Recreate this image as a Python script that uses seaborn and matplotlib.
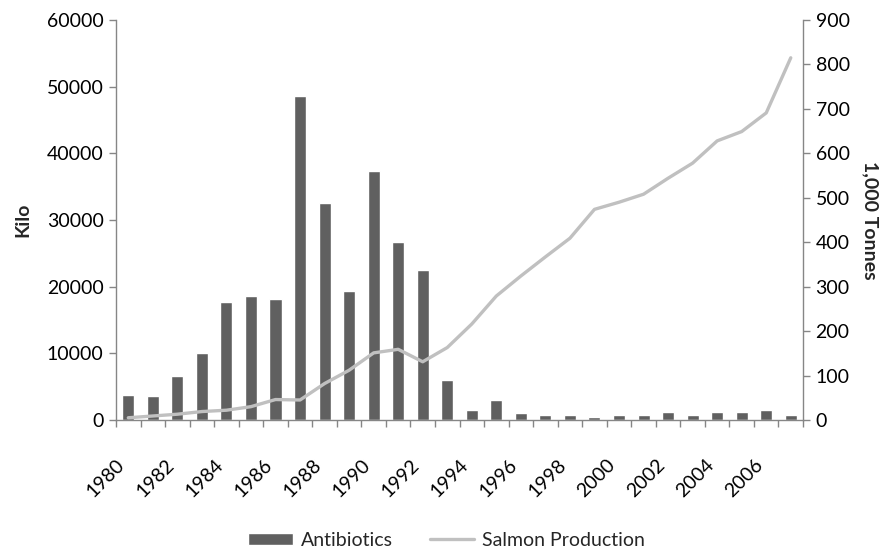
import numpy as np
import pandas as pd
import matplotlib
matplotlib.use('Agg')
import matplotlib.pyplot as plt
import seaborn as sns

# --- data ---
years = list(range(1980, 2008))
antibiotics = [3750, 3600, 6600, 10000, 17700, 18600, 18150, 48600, 32550, 19350,
               37350, 26700, 22500, 6000, 1500, 3000, 1000, 750, 750, 450,
               750, 750, 1150, 750, 1150, 1150, 1500, 750]
salmon = [5, 9, 13, 19, 22, 30, 46, 45, 82, 112,
          151, 159, 131, 163, 216, 279, 324, 367, 409, 474,
          490, 508, 544, 578, 628, 649, 691, 815]

df = pd.DataFrame({'Year': years, 'Antibiotics': antibiotics, 'Salmon': salmon})
df['pos'] = np.arange(len(df))

sns.set_style('white')
plt.rcParams['font.family'] = ['Lato', 'DejaVu Sans']

spine_col = '#868686'
bar_col = '#606060'
line_col = '#c0c0c0'

fig, ax = plt.subplots(figsize=(8.81, 5.47), dpi=100)
fig.subplots_adjust(left=0.1317, right=0.9115, top=0.9634, bottom=0.2322)

sns.barplot(data=df, x='pos', y='Antibiotics', color=bar_col, width=0.49,
            saturation=1, ax=ax, label='Antibiotics')
ax2 = ax.twinx()
sns.lineplot(data=df, x='pos', y='Salmon', color=line_col, linewidth=2.4,
             ax=ax2, label='Salmon Production', legend=False)
if ax.get_legend() is not None:
    ax.get_legend().remove()

ax.set_xlim(-0.5, len(years) - 0.5)
ax.set_ylim(0, 60000)
ax2.set_ylim(0, 900)
ax.set_yticks(range(0, 60001, 10000))
ax2.set_yticks(range(0, 901, 100))

# category boundaries as ticks, labels every other year
bounds = np.arange(-0.5, len(years), 1.0)
ax.set_xticks(bounds)
labels = [str(y) if (y - 1980) % 2 == 0 else '' for y in years] + ['']
ax.set_xticklabels(labels, rotation=45, ha='right', rotation_mode='anchor',
                   fontsize=14)

ax.set_xlabel('')
ax.set_ylabel('Kilo', fontsize=14, fontweight='bold', labelpad=11)
ax2.set_ylabel('1,000 Tonnes', fontsize=14, fontweight='bold', rotation=-90,
               labelpad=21)

for a in (ax, ax2):
    for s in a.spines.values():
        s.set_visible(False)
ax.spines['left'].set_visible(True)
ax.spines['bottom'].set_visible(True)
ax2.spines['right'].set_visible(True)
for s in (ax.spines['left'], ax.spines['bottom'], ax2.spines['right']):
    s.set_color(spine_col)
    s.set_linewidth(1.0)

ax.tick_params(axis='y', length=5, width=1, color=spine_col, direction='out',
               labelsize=14, labelcolor='black', pad=4, left=True)
ax.tick_params(axis='x', length=5, width=1, color=spine_col, direction='out',
               labelsize=14, labelcolor='black', pad=21, bottom=True)
ax2.tick_params(axis='y', length=5, width=1, color=spine_col, direction='out',
                labelsize=14, labelcolor='black', right=True, pad=4)

h1, l1 = ax.get_legend_handles_labels()
h2, l2 = ax2.get_legend_handles_labels()
leg = fig.legend(h1 + h2, l1 + l2, loc='lower center', bbox_to_anchor=(0.507, -0.035),
                 ncol=2, frameon=False, fontsize=14, handlelength=2.3,
                 handleheight=0.6, columnspacing=1.9, handletextpad=0.4)

fig.savefig('out.png', dpi=100)
